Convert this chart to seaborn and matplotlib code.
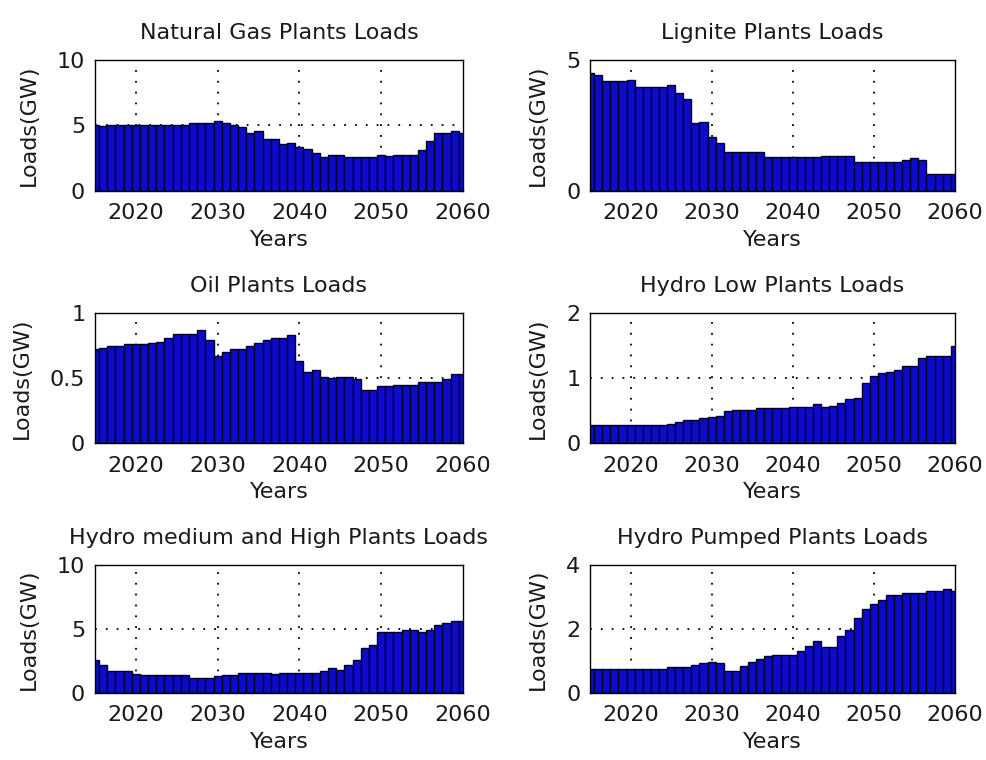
import numpy as np
import pandas as pd
import matplotlib
matplotlib.use("Agg")
import matplotlib.pyplot as plt
import seaborn as sns

years = list(range(2015, 2061))

natural_gas = [5.05, 4.95, 5.0, 5.0, 5.0, 5.0, 5.0, 5.0, 5.0, 5.0,
               5.0, 5.0, 5.2, 5.2, 5.2, 5.35, 5.2, 5.05, 4.85, 4.45,
               4.6, 4.0, 4.0, 3.55, 3.7, 3.35, 3.2, 2.9, 2.6, 2.75,
               2.75, 2.6, 2.6, 2.6, 2.6, 2.75, 2.65, 2.75, 2.75, 2.75,
               3.1, 3.85, 4.45, 4.45, 4.6, 4.45]

lignite = [4.5, 4.42, 4.19, 4.19, 4.19, 4.22, 3.96, 3.96, 3.96, 3.96,
           4.04, 3.74, 3.51, 2.59, 2.65, 2.05, 1.82, 1.5, 1.5, 1.5,
           1.5, 1.5, 1.28, 1.28, 1.28, 1.28, 1.28, 1.28, 1.28, 1.35,
           1.35, 1.35, 1.35, 1.12, 1.12, 1.12, 1.12, 1.12, 1.12, 1.18,
           1.27, 1.2, 0.64, 0.64, 0.64, 0.64]

oil = [0.72, 0.73, 0.75, 0.75, 0.76, 0.76, 0.76, 0.77, 0.78, 0.81,
       0.84, 0.84, 0.84, 0.87, 0.79, 0.67, 0.70, 0.72, 0.72, 0.75,
       0.77, 0.79, 0.81, 0.81, 0.83, 0.63, 0.55, 0.56, 0.505, 0.50,
       0.51, 0.51, 0.49, 0.41, 0.41, 0.44, 0.44, 0.45, 0.45, 0.45,
       0.47, 0.47, 0.47, 0.49, 0.53, 0.53]

hydro_low = [0.27, 0.27, 0.27, 0.27, 0.27, 0.27, 0.27, 0.27, 0.27, 0.27,
             0.30, 0.32, 0.36, 0.36, 0.38, 0.40, 0.42, 0.49, 0.51, 0.51,
             0.51, 0.54, 0.54, 0.54, 0.54, 0.56, 0.56, 0.56, 0.60, 0.55,
             0.57, 0.61, 0.67, 0.70, 0.93, 1.03, 1.07, 1.10, 1.13, 1.19,
             1.19, 1.31, 1.34, 1.34, 1.34, 1.50]

hydro_med_high = [2.6, 2.2, 1.75, 1.75, 1.75, 1.5, 1.43, 1.43, 1.43, 1.43,
                  1.43, 1.43, 1.17, 1.17, 1.17, 1.3, 1.43, 1.43, 1.56, 1.56,
                  1.56, 1.56, 1.48, 1.56, 1.56, 1.56, 1.56, 1.56, 1.75, 1.93,
                  1.8, 2.2, 2.55, 3.5, 3.78, 4.74, 4.74, 4.74, 4.92, 4.92,
                  4.8, 4.95, 5.3, 5.47, 5.65, 5.65]

hydro_pumped = [0.75, 0.75, 0.75, 0.75, 0.75, 0.75, 0.75, 0.75, 0.75, 0.75,
                0.81, 0.81, 0.81, 0.89, 0.95, 0.97, 0.95, 0.70, 0.70, 0.83,
                0.96, 1.06, 1.15, 1.2, 1.2, 1.2, 1.33, 1.46, 1.64, 1.44,
                1.44, 1.77, 1.96, 2.34, 2.64, 2.78, 2.9, 3.07, 3.07, 3.12,
                3.12, 3.12, 3.18, 3.18, 3.25, 3.2]

titles = ["Natural Gas Plants Loads", "Lignite Plants Loads",
          "Oil Plants Loads", "Hydro Low Plants Loads",
          "Hydro medium and High Plants Loads", "Hydro Pumped Plants Loads"]
series = [natural_gas, lignite, oil, hydro_low, hydro_med_high, hydro_pumped]
y_limits = [10, 5, 1, 2, 10, 4]
y_ticks = [[0, 5, 10], [0, 5], [0, 0.5, 1], [0, 1, 2], [0, 5, 10], [0, 2, 4]]
y_ticklabels = [["0", "5", "10"], ["0", "5"], ["0", "0.5", "1"],
                ["0", "1", "2"], ["0", "5", "10"], ["0", "2", "4"]]
x_ticks = [2020, 2030, 2040, 2050, 2060]

sns.set_theme(style="white")
plt.rcParams["font.family"] = ["DejaVu Sans"]

fig = plt.figure(figsize=(9.86, 7.6), dpi=100)
fig.patch.set_facecolor("white")

lefts = [0.0963, 0.5984]
widths = [0.3732, 0.370]
bottoms = [0.7487, 0.4171, 0.0882]
heights = [0.1724, 0.171, 0.168]

fs = 16
txt = "#1a1a1a"
for i, (title, vals) in enumerate(zip(titles, series)):
    r, c = divmod(i, 2)
    ax = fig.add_axes([lefts[c], bottoms[r], widths[c], heights[r]])
    df = pd.DataFrame({"Year": years, "Load": vals})
    sns.barplot(data=df, x="Year", y="Load", native_scale=True, width=1.0,
                color="#0c0cc8", saturation=1, edgecolor="#00002a",
                linewidth=1.0, errorbar=None, ax=ax, zorder=2)
    ax.set_xlim(2015, 2060)
    ax.set_ylim(0, y_limits[i])
    ax.set_xticks(x_ticks)
    ax.set_xticklabels([str(t) for t in x_ticks], fontsize=fs, color=txt)
    ax.set_yticks(y_ticks[i])
    ax.set_yticklabels(y_ticklabels[i], fontsize=fs, color=txt)
    ax.tick_params(axis="x", direction="in", length=0, pad=9)
    ax.tick_params(axis="y", direction="in", length=0, pad=7)
    ax.grid(True, linestyle=(0, (1, 5)), color="black", linewidth=1.3, zorder=0)
    ax.set_axisbelow(True)
    # grid lines that fall on the frame are hidden by the solid border
    ax.xaxis.get_gridlines()[-1].set_visible(False)
    ax.yaxis.get_gridlines()[-1].set_visible(False)
    for sp in ax.spines.values():
        sp.set_color("black")
        sp.set_linewidth(1.0)
        sp.set_zorder(5)
    ax.set_title(title, fontsize=fs, color=txt, pad=15)
    ax.set_xlabel("Years", fontsize=fs, color=txt, labelpad=5)
    ax.set_ylabel("Loads(GW)", fontsize=fs, color=txt, labelpad=13)

fig.savefig("out.png", dpi=100, facecolor="white")
